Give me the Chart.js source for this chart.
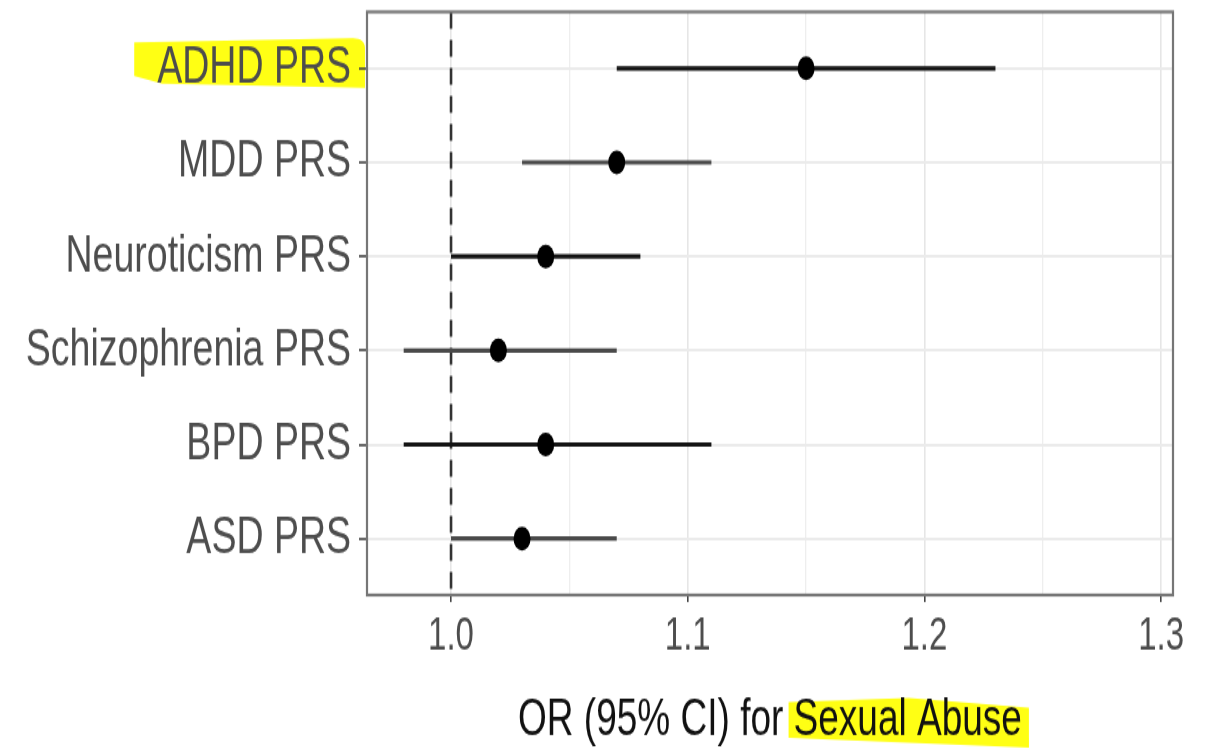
<!DOCTYPE html>
<html>
<head>
<meta charset="utf-8">
<script src="https://cdn.jsdelivr.net/npm/chart.js@4.4.0/dist/chart.umd.min.js"></script>
<style>
  html, body { margin: 0; padding: 0; background: #fff; overflow: hidden; }
  #wrap { width: 1211px; height: 749px; }
  /* plot is drawn flat and stretched vertically */
  #forest { transform: scaleY(1.4); transform-origin: 0 0; }
</style>
</head>
<body>
<div id="wrap"><canvas id="forest" width="1211" height="535"></canvas></div>
<script>
// PRS predictors, top row first
const predictors = ['ADHD PRS', 'MDD PRS', 'Neuroticism PRS', 'Schizophrenia PRS', 'BPD PRS', 'ASD PRS'];
const oddsRatio = [1.15, 1.07, 1.04, 1.02, 1.04, 1.03];
const ciLower = [1.07, 1.03, 1.00, 0.98, 0.98, 1.00];
const ciUpper = [1.23, 1.11, 1.08, 1.07, 1.11, 1.07];
const xTicks = [1.0, 1.1, 1.2, 1.3];
const xMinorTicks = [1.05, 1.15, 1.25];
const nullOR = 1.0;
const xTitle = 'OR (95% CI) for ';
const xTitleMarked = 'Sexual Abuse';

const FONT = '"Liberation Sans", Arial, sans-serif';
const n = predictors.length;
const rowOf = i => n - i; // first predictor sits on top
const isMajor = v => xTicks.some(t => Math.abs(t - v) < 1e-9);

const datasets = [];
// point estimates
datasets.push({
  data: oddsRatio.map((v, i) => ({ x: v, y: rowOf(i) })),
  pointRadius: 8.5,
  pointHoverRadius: 8.5,
  backgroundColor: '#000',
  borderWidth: 0
});
// confidence intervals
predictors.forEach((p, i) => {
  const col = i % 2 ? '#4a4a4a' : '#141414';
  datasets.push({
    data: [{ x: ciLower[i], y: rowOf(i) }, { x: ciUpper[i], y: rowOf(i) }],
    showLine: true,
    borderColor: col,
    borderWidth: 3.2,
    pointRadius: 0
  });
});
// reference line at OR = 1
datasets.push({
  data: [{ x: nullOR, y: n + 0.6 }, { x: nullOR, y: 0.4 }],
  showLine: true,
  borderColor: '#333',
  borderWidth: 2.6,
  borderDash: [12, 8],
  pointRadius: 0
});

function titleLayout(chart) {
  const ctx = chart.ctx;
  ctx.font = '37px ' + FONT;
  const w1 = ctx.measureText(xTitle).width;
  const w2 = ctx.measureText(xTitleMarked).width;
  const cx = (chart.chartArea.left + chart.chartArea.right) / 2;
  const x0 = cx - (w1 + w2) / 2;
  return { x0, w1, w2, base: 525 };
}

const highlight = {
  id: 'highlight',
  beforeDraw(chart) {
    const ctx = chart.ctx;
    const ca = chart.chartArea;
    ctx.save();
    ctx.fillStyle = '#ffff14';
    // marker behind the ADHD label
    ctx.font = '37.5px ' + FONT;
    const w = ctx.measureText(predictors[0]).width;
    const cy = chart.scales.y.getPixelForValue(rowOf(0));
    const x0 = ca.left - 16 - w - 23, x1 = ca.left - 2;
    ctx.beginPath();
    ctx.moveTo(x0, cy - 18.5);
    ctx.lineTo(x1 - 12, cy - 21.5);
    ctx.quadraticCurveTo(x1, cy - 21.5, x1, cy - 14);
    ctx.lineTo(x1, cy + 14);
    ctx.lineTo(x0 + 28, cy + 11);
    ctx.lineTo(x0, cy + 5.5);
    ctx.closePath();
    ctx.fill();
    // marker behind "Sexual Abuse"
    const t = titleLayout(chart);
    const s0 = t.x0 + t.w1 - 5, s1 = t.x0 + t.w1 + t.w2 + 7;
    ctx.beginPath();
    ctx.moveTo(s0, t.base - 23.5);
    ctx.lineTo((s0 + s1) / 2, t.base - 26.5);
    ctx.lineTo(s1, t.base - 19.5);
    ctx.lineTo(s1, t.base + 9);
    ctx.lineTo(s0, t.base + 2);
    ctx.closePath();
    ctx.fill();
    ctx.restore();
  },
  afterDatasetsDraw(chart) {
    const ctx = chart.ctx;
    const ca = chart.chartArea;
    ctx.save();
    ctx.strokeStyle = '#767676';
    ctx.lineWidth = 2.2;
    ctx.strokeRect(ca.left, ca.top, ca.right - ca.left, ca.bottom - ca.top);
    ctx.restore();
  },
  afterDraw(chart) {
    const ctx = chart.ctx;
    const t = titleLayout(chart);
    ctx.save();
    ctx.fillStyle = '#111';
    ctx.textBaseline = 'alphabetic';
    ctx.textAlign = 'left';
    ctx.fillText(xTitle + xTitleMarked, t.x0, t.base);
    ctx.restore();
  }
};

new Chart(document.getElementById('forest'), {
  type: 'scatter',
  data: { datasets },
  plugins: [highlight],
  options: {
    responsive: false,
    animation: false,
    events: [],
    layout: { padding: { top: 6, right: 38, left: 0, bottom: 0 } },
    plugins: { legend: { display: false }, tooltip: { enabled: false } },
    scales: {
      x: {
        type: 'linear',
        min: 0.9645,
        max: 1.305,
        afterBuildTicks: s => {
          s.ticks = xTicks.concat(xMinorTicks).sort((a, b) => a - b).map(v => ({ value: v }));
        },
        afterFit: s => { s.height = 110; s.paddingLeft = 0; s.paddingRight = 0; },
        border: { display: false },
        grid: {
          color: c => isMajor(c.tick.value) ? '#e6e6e6' : '#eeeeee',
          lineWidth: c => isMajor(c.tick.value) ? 1.6 : 1.3,
          tickLength: 5,
          tickWidth: 1.6,
          tickColor: c => isMajor(c.tick.value) ? '#444' : 'rgba(0,0,0,0)'
        },
        ticks: {
          autoSkip: false,
          maxRotation: 0,
          padding: 5,
          color: '#4d4d4d',
          font: { family: FONT, size: 33 },
          callback: v => isMajor(v) ? v.toFixed(1) : ''
        }
      },
      y: {
        type: 'linear',
        min: 0.4,
        max: n + 0.6,
        afterBuildTicks: s => {
          s.ticks = predictors.map((p, i) => ({ value: rowOf(i) }));
        },
        afterFit: s => { s.width = 367; s.paddingTop = 0; s.paddingBottom = 0; },
        border: { display: false },
        grid: {
          color: '#ebebeb',
          lineWidth: 2,
          tickLength: 8,
          tickWidth: 1.6,
          tickColor: '#444'
        },
        ticks: {
          autoSkip: false,
          padding: 8,
          color: '#4d4d4d',
          font: { family: FONT, size: 37.5 },
          callback: v => predictors[n - v]
        }
      }
    }
  }
});
</script>
</body>
</html>
